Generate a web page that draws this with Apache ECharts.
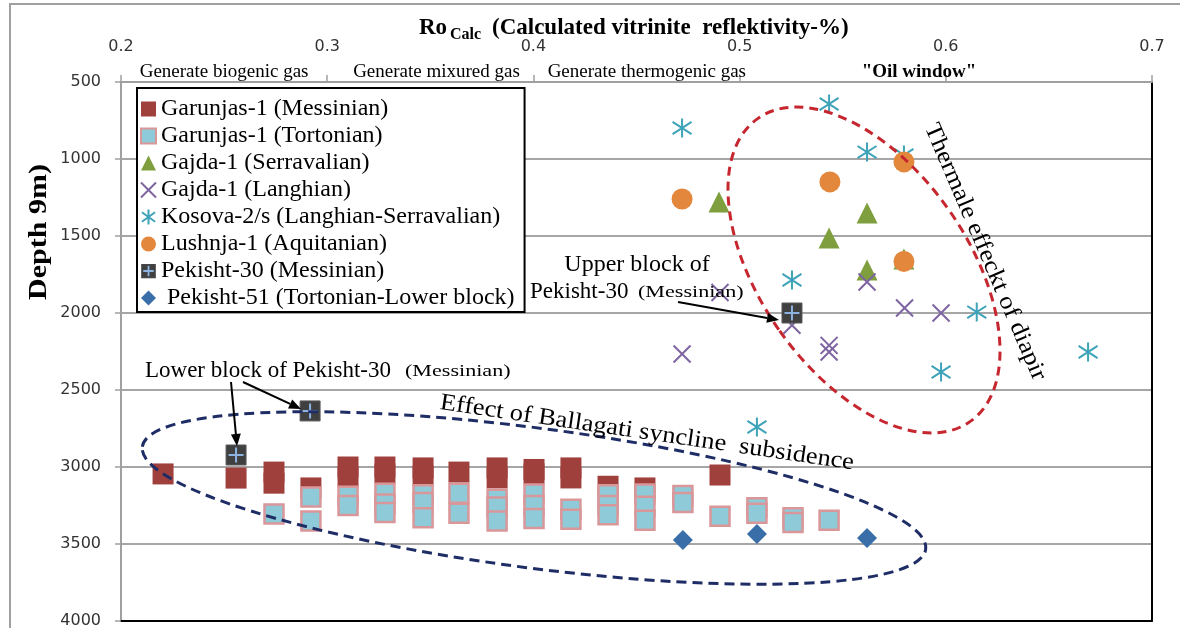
<!DOCTYPE html>
<html><head><meta charset="utf-8">
<script src="https://cdn.jsdelivr.net/npm/echarts@6/dist/echarts.min.js"></script>
<style>html,body{margin:0;padding:0;background:#fff}#c{width:1180px;height:628px}</style>
</head><body><div id="c"></div>
<script>
// ---- axis ticks ----
const xTicks = [0.2, 0.3, 0.4, 0.5, 0.6, 0.7];
const depthTicks = [500, 1000, 1500, 2000, 2500, 3000, 3500, 4000];
const zoneLabels = ['Generate biogenic gas', 'Generate mixured gas', 'Generate thermogenic gas', '"Oil window"'];
const zoneCenters = [0.25, 0.353, 0.455, 0.587];

// ---- series data: [Ro calc %, depth m] ----
const garunjasMessinian = [[0.2204,3045],[0.2558,3072],[0.2742,3033],[0.2742,3105],[0.2921,3136],[0.3101,3000],[0.3101,3065],[0.3280,3000],[0.3280,3045],[0.3465,3006],[0.3465,3058],[0.3639,3033],[0.3824,3006],[0.3824,3071],[0.4003,3016],[0.4003,3045],[0.4182,3006],[0.4182,3071],[0.4362,3125],[0.4541,3136],[0.4905,3052]];
const garunjasTortonian = [[0.2742,3305],[0.2921,3195],[0.2921,3351],[0.3101,3190],[0.3101,3250],[0.3280,3170],[0.3280,3240],[0.3280,3295],[0.3465,3180],[0.3465,3230],[0.3465,3330],[0.3639,3170],[0.3639,3300],[0.3824,3210],[0.3824,3260],[0.3824,3350],[0.4003,3175],[0.4003,3250],[0.4003,3335],[0.4182,3275],[0.4182,3340],[0.4362,3180],[0.4362,3250],[0.4362,3310],[0.4541,3175],[0.4541,3255],[0.4541,3345],[0.4725,3185],[0.4725,3230],[0.4905,3320],[0.5084,3265],[0.5084,3300],[0.5259,3330],[0.5259,3360],[0.5434,3345]];
const gajdaSerravalian = [[0.4900,1279],[0.5434,1513],[0.5618,1351],[0.5618,1721],[0.5797,1650]];
const gajdaLanghian = [[0.4905,1867],[0.4721,2266],[0.5254,2080],[0.5434,2210],[0.5434,2253],[0.5618,1799],[0.5800,1968],[0.5977,2000]];
const kosova = [[0.4721,799],[0.5434,643],[0.5618,955],[0.5797,974],[0.5254,1786],[0.6150,1994],[0.5977,2383],[0.6690,2253],[0.5084,2740]];
const lushnja = [[0.4721,1260],[0.5438,1149],[0.5797,1019],[0.5797,1665]];
const pekisht30 = [[0.2917,2636],[0.2558,2922],[0.5254,2000]];
const pekisht51 = [[0.4725,3474],[0.5084,3435],[0.5618,3461]];

const names = ['Garunjas-1 (Messinian)','Garunjas-1 (Tortonian)','Gajda-1 (Serravalian)','Gajda-1 (Langhian)','Kosova-2/s (Langhian-Serravalian)','Lushnja-1 (Aquitanian)','Pekisht-30 (Messinian)',' Pekisht-51 (Tortonian-Lower block)'];

const SERIF = '"Liberation Serif", "Times New Roman", serif';
const SANS = '"DejaVu Sans", sans-serif';

const pekIconSvg = "<svg xmlns='http://www.w3.org/2000/svg' width='20' height='20'><rect x='0.5' y='0.5' width='19' height='19' fill='#404040' stroke='#5a5a5a'/><path d='M10 3V17M3 10H17' stroke='#8DB3E2' stroke-width='2.4'/></svg>";
const pekIcon = 'image://data:image/svg+xml;charset=utf-8,' + encodeURIComponent(pekIconSvg);

function arrow(x1, y1, x2, y2) {
  const a = Math.atan2(y2 - y1, x2 - x1), L = 12, W = 5;
  const bx = x2 - L * Math.cos(a), by = y2 - L * Math.sin(a);
  return [
    {type:'line', z:100, shape:{x1, y1, x2:bx, y2:by}, style:{stroke:'#000', lineWidth:2}},
    {type:'polygon', z:100, shape:{points:[[x2,y2],[bx + W*Math.sin(a), by - W*Math.cos(a)],[bx - W*Math.sin(a), by + W*Math.cos(a)]]}, style:{fill:'#000'}}
  ];
}
function txt(x, y, text, font, opts) {
  return Object.assign({type: 'text', z: 100, x, y,
    style: {text, font, fill: '#000', textAlign: (opts && opts.align) || 'left', textVerticalAlign: 'middle'}},
    opts && opts.el);
}

const chart = echarts.init(document.getElementById('c'), null, {renderer:'canvas'});

const option = {
  animation: false,
  backgroundColor: '#fff',
  grid: {left: 121, right: 28, top: 82, bottom: 7, outerBoundsMode: 'none', containLabel: false},
  xAxis: [{
    type: 'value', position: 'top', min: xTicks[0], max: xTicks[xTicks.length-1], interval: 0.1,
    axisLine: {show: true, lineStyle: {color: '#A0A0A0', width: 2}},
    axisTick: {show: true, length: 7, lineStyle: {color: '#A0A0A0', width: 1.5}},
    axisLabel: {margin: 27, fontFamily: SANS, fontSize: 16, color: '#333',
      formatter: v => { const i = xTicks.findIndex(t => Math.abs(t - v) < 1e-6); return i >= 0 ? xTicks[i].toFixed(1) : ''; }},
    splitLine: {show: false}
  }, {
    type: 'value', position: 'bottom', min: xTicks[0], max: xTicks[xTicks.length-1],
    axisLine: {show: true, lineStyle: {color: '#000', width: 2}},
    axisTick: {show: false}, axisLabel: {show: false}, splitLine: {show: false}
  }],
  yAxis: [{
    type: 'value', inverse: true, min: depthTicks[0], max: depthTicks[depthTicks.length-1], interval: 500,
    axisLine: {show: true, lineStyle: {color: '#A0A0A0', width: 2}},
    axisTick: {show: true, length: 6, lineStyle: {color: '#A0A0A0', width: 1.5}},
    axisLabel: {margin: 20, fontFamily: SANS, fontSize: 16, color: '#333', formatter: v => String(v)},
    splitLine: {show: true, lineStyle: {color: '#A6A6A6', width: 2}}
  }, {
    type: 'value', position: 'right', inverse: true, min: depthTicks[0], max: depthTicks[depthTicks.length-1],
    axisLine: {show: true, lineStyle: {color: '#000', width: 2}},
    axisTick: {show: false}, axisLabel: {show: false}, splitLine: {show: false}
  }],
  legend: {
    orient: 'vertical', left: 137, top: 88, padding: [9, 10, 2, 3],
    itemWidth: 15, itemHeight: 15, itemGap: 3,
    borderColor: '#000', borderWidth: 2, backgroundColor: '#fff',
    textStyle: {fontFamily: SERIF, fontSize: 24, color: '#000', lineHeight: 22.3},
    data: names.map((n, i) => i === 6 ? {name: n, icon: pekIcon} : {name: n})
  },
  series: [
    {name: names[0], type: 'scatter', data: garunjasMessinian, symbol: 'rect', symbolSize: 21,
      itemStyle: {color: '#A0403D', opacity: 1}},
    {name: names[1], type: 'scatter', data: garunjasTortonian, symbol: 'rect', symbolSize: 19,
      itemStyle: {color: '#8ECAD8', borderColor: '#D9979A', borderWidth: 2.5, opacity: 1}},
    {name: names[2], type: 'scatter', data: gajdaSerravalian, symbol: 'triangle', symbolSize: 21,
      itemStyle: {color: '#7F9F3F', opacity: 1}},
    {name: names[3], type: 'scatter', data: gajdaLanghian, symbol: 'path://M0 0L10 10M10 0L0 10', symbolSize: 17,
      itemStyle: {color: '#7E64A0', borderColor: '#7E64A0', borderWidth: 2, opacity: 1}},
    {name: names[4], type: 'scatter', data: kosova, symbol: 'path://M5 0L5 10M0.6 1.8L9.4 8.2M9.4 1.8L0.6 8.2', symbolSize: 19,
      itemStyle: {color: '#3EA3B8', borderColor: '#3EA3B8', borderWidth: 2, opacity: 1}},
    {name: names[5], type: 'scatter', data: lushnja, symbol: 'circle', symbolSize: 21,
      itemStyle: {color: '#E2873C', opacity: 1}},
    {name: names[6], type: 'scatter', data: pekisht30, symbol: 'rect', symbolSize: 20,
      itemStyle: {color: '#404040', borderColor: '#5a5a5a', borderWidth: 1, opacity: 1}},
    {name: 'Pekisht-30 plus', type: 'scatter', data: pekisht30, symbol: 'path://M5 0L5 10M0 5L10 5', symbolSize: 15,
      silent: true, itemStyle: {color: '#8DB3E2', borderColor: '#8DB3E2', borderWidth: 2, opacity: 1}},
    {name: names[7], type: 'scatter', data: pekisht51, symbol: 'diamond', symbolSize: 20,
      itemStyle: {color: '#3A6EA8', opacity: 1}}
  ]
};
chart.setOption(option);

// annotations
const zoneGraphics = zoneLabels.map((t, i) => {
  const px = chart.convertToPixel({xAxisIndex: 0}, zoneCenters[i]);
  return txt(px, 72, t, (i === 3 ? 'bold ' : '') + '19px ' + SERIF, {align: 'center'});
});

const graphics = [
  {type: 'rect', z: -1, shape: {x: 10, y: 4, width: 1300, height: 800}, style: {fill: 'none', stroke: '#A0A0A0', lineWidth: 2}},
  // title
  txt(419, 28, 'Ro', 'bold 23px ' + SERIF),
  txt(450, 35, 'Calc', 'bold 16px ' + SERIF),
  txt(492, 28, '(Calculated vitrinite  reflektivity-%)', 'bold 23px ' + SERIF),
  txt(40, 232, 'Depth 9m)', 'bold 25px ' + SERIF, {align: 'center', el: {rotation: Math.PI / 2, scaleX: 1.2}}),
  ...zoneGraphics,
  // ellipses
  {type: 'ellipse', z: 90, x: 864, y: 270, rotation: 0.61, shape: {cx: 0, cy: 0, rx: 104, ry: 185},
    style: {fill: 'none', stroke: '#C6262E', lineWidth: 3, lineDash: [9, 6]}},
  {type: 'ellipse', z: 90, x: 534, y: 498, rotation: -0.13, shape: {cx: 0, cy: 0, rx: 395, ry: 70},
    style: {fill: 'none', stroke: '#1F2D66', lineWidth: 3, lineDash: [10, 6]}},
  // texts
  txt(985, 252, 'Thermale effeckt of diapir', '24px ' + SERIF, {align: 'center', el: {rotation: -1.165, scaleX: 1.1}}),
  txt(647, 433, 'Effect of Ballagati syncline  subsidence', '24px ' + SERIF, {align: 'center', el: {rotation: -0.145, scaleX: 1.1}}),
  txt(637, 265, 'Upper block of', '24px ' + SERIF, {align: 'center'}),
  txt(530, 292, 'Pekisht-30', '23px ' + SERIF),
  txt(638, 293, '(Messinian)', '17px ' + SERIF, {el: {scaleX: 1.3}}),
  txt(145, 371, 'Lower block of Pekisht-30', '23px ' + SERIF),
  txt(405, 372, '(Messinian)', '17px ' + SERIF, {el: {scaleX: 1.3}}),
  ...arrow(678, 302, 779, 320),
  ...arrow(231, 382, 237, 446),
  ...arrow(243, 382, 301, 409)
];
chart.setOption({graphic: graphics});
</script></body></html>
